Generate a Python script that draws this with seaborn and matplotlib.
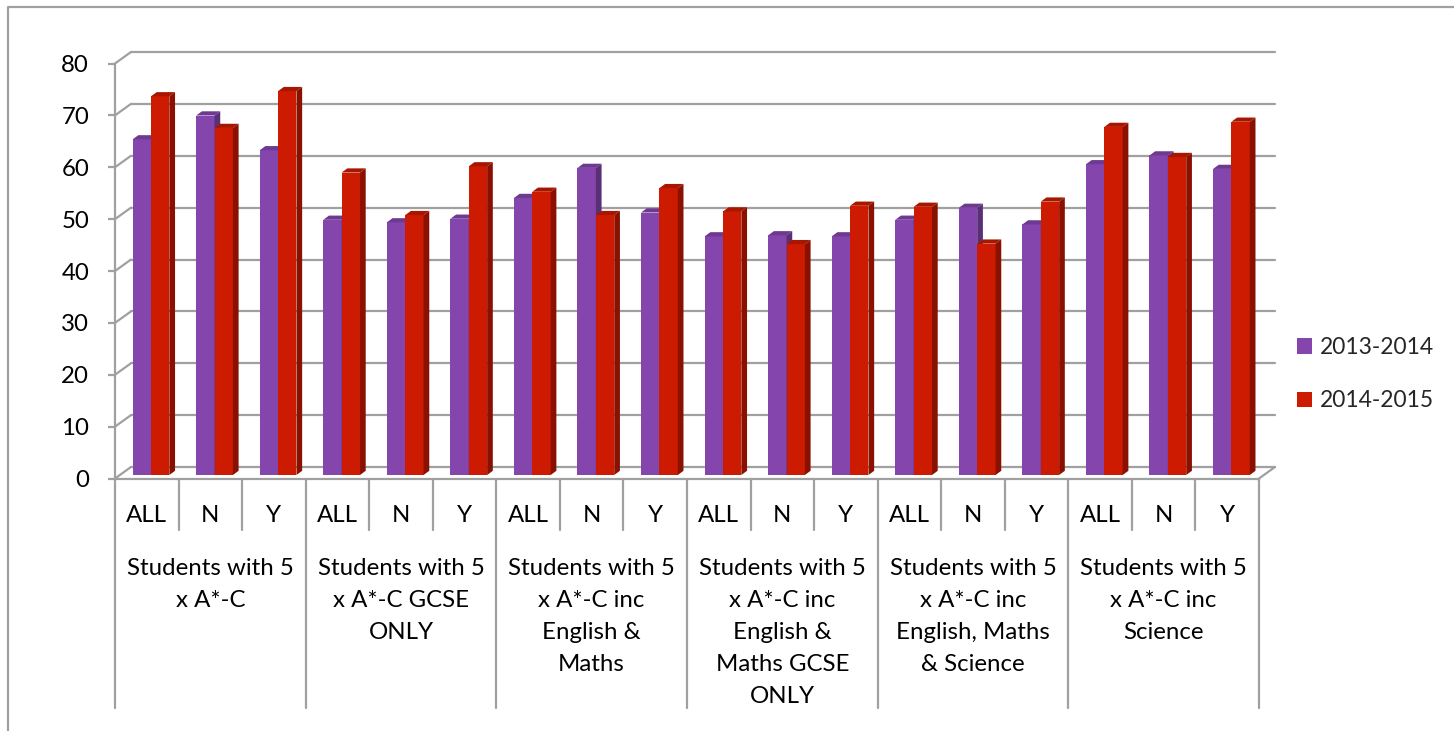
import numpy as np
import pandas as pd
import matplotlib
matplotlib.use("Agg")
import matplotlib.pyplot as plt
import seaborn as sns
from matplotlib import transforms
from matplotlib.patches import Polygon, Patch
from matplotlib.lines import Line2D

# ---------------- data ----------------
groups = [
    "Students with 5\nx A*-C",
    "Students with 5\nx A*-C GCSE\nONLY",
    "Students with 5\nx A*-C inc\nEnglish &\nMaths",
    "Students with 5\nx A*-C inc\nEnglish &\nMaths GCSE\nONLY",
    "Students with 5\nx A*-C inc\nEnglish, Maths\n& Science",
    "Students with 5\nx A*-C inc\nScience",
]
subcats = ["ALL", "N", "Y"]
series = ["2013-2014", "2014-2015"]
vals_1314 = [64.7, 69.3, 62.6,
             49.2, 48.7, 49.4,
             53.4, 59.2, 50.6,
             46.0, 46.2, 46.0,
             49.2, 51.5, 48.3,
             59.9, 61.6, 59.0]
vals_1415 = [73.0, 66.9, 74.0,
             58.3, 50.1, 59.5,
             54.6, 50.1, 55.3,
             50.8, 44.5, 51.9,
             51.7, 44.6, 52.7,
             67.1, 61.3, 68.1]
yticks = [0, 10, 20, 30, 40, 50, 60, 70, 80]

# ---------------- style ----------------
W, H, DPI = 1454, 731, 100
PURPLE, RED = "#8446AC", "#CC1B00"
TOP = {PURPLE: "#6E3990", RED: "#A91600"}
SIDE = {PURPLE: "#5B2E78", RED: "#8A1100"}
GRID = "#a0a0a0"
FS = 17.3

sns.set_style("white")
plt.rcParams["font.family"] = ["Lato", "DejaVu Sans"]

fig = plt.figure(figsize=(W / DPI, H / DPI), dpi=DPI)
fig.patch.set_facecolor("white")

def fy(ypx):
    return 1 - ypx / H

X0, X1, Y0, Y80 = 115, 1259, 478.5, 63.5
ax = fig.add_axes([X0 / W, fy(Y0), (X1 - X0) / W, (Y0 - Y80) / H])
ax.set_facecolor("none")

keys = [f"{g}|{s}" for g in range(len(groups)) for s in subcats]
df = pd.DataFrame({
    "key": keys * 2,
    "series": [series[0]] * len(keys) + [series[1]] * len(keys),
    "value": vals_1314 + vals_1415,
})
sns.barplot(data=df, x="key", y="value", hue="series", order=keys,
            hue_order=series, palette=[PURPLE, RED], width=0.578,
            saturation=1, errorbar=None, legend=False, ax=ax)
ax.set_xlim(-0.5, len(keys) - 0.5)
ax.set_ylim(0, 80)
ax.set_xlabel("")
ax.set_ylabel("")

# 3D depth offsets (pixels)
DX, DY = 16, 11.5          # back wall
BSX, BSY = 4.2, 3.5        # bar front-face shift
TX, TY = 5.7, 4.2          # bar depth
shift = transforms.ScaledTranslation(BSX / DPI, BSY / DPI, fig.dpi_scale_trans)
ident = transforms.IdentityTransform()

for ci, cont in enumerate(ax.containers):
    col = [PURPLE, RED][ci]
    z = 3 + ci
    for bar in cont:
        bar.set_transform(ax.transData + shift)
        bar.set_linewidth(0)
        bar.set_facecolor(col)
        bar.set_zorder(z)
        x, w, h = bar.get_x(), bar.get_width(), bar.get_height()
        (px0, py0) = ax.transData.transform((x, 0)) + (BSX, BSY)
        (px1, py1) = ax.transData.transform((x + w, h)) + (BSX, BSY)
        top = Polygon([(px0, py1), (px1, py1), (px1 + TX, py1 + TY), (px0 + TX, py1 + TY)],
                      closed=True, transform=ident, facecolor=TOP[col], lw=0,
                      zorder=z, clip_on=False)
        side = Polygon([(px1, py0), (px1, py1), (px1 + TX, py1 + TY), (px1 + TX, py0 + TY)],
                       closed=True, transform=ident, facecolor=SIDE[col], lw=0,
                       zorder=z, clip_on=False)
        ax.add_artist(top)
        ax.add_artist(side)

# back-wall gridlines and left diagonals
back = ax.transData + transforms.ScaledTranslation(DX / DPI, DY / DPI, fig.dpi_scale_trans)
xl, xr = ax.get_xlim()
for v in yticks:
    ax.add_artist(Line2D([xl, xr], [v, v], transform=back, color=GRID, lw=1.6,
                         zorder=1, clip_on=False))
    fx, fyy = ax.transData.transform((xl, v))
    ax.add_artist(Line2D([fx, fx + DX], [fyy, fyy + DY], transform=ident, color=GRID,
                         lw=1.6, zorder=1, clip_on=False))
rx, ry = ax.transData.transform((xr, 0))
ax.add_artist(Line2D([rx, rx + DX], [ry, ry + DY], transform=ident, color=GRID,
                     lw=1.6, zorder=1, clip_on=False))

# spines / ticks
for s in ["top", "right"]:
    ax.spines[s].set_visible(False)
for s in ["left", "bottom"]:
    ax.spines[s].set_color(GRID)
    ax.spines[s].set_linewidth(1.6)
ax.set_yticks(yticks)
ax.set_yticklabels([str(t) for t in yticks])
ax.tick_params(axis="y", length=5.4, width=1.6, color=GRID, pad=13.3,
               labelsize=FS, labelcolor="black", left=True)
ax.set_xticks([])

# multi-level category axis
blend = transforms.blended_transform_factory(ax.transData, fig.transFigure)
for i in range(len(keys)):
    ax.text(i, fy(521.5), subcats[i % 3], transform=blend, ha="center",
            va="baseline", fontsize=FS, color="black", clip_on=False)
for i in range(len(keys) + 1):
    xb = i - 0.5
    ybot = 708 if i % 3 == 0 else 530
    ax.add_artist(Line2D([xb, xb], [fy(Y0), fy(ybot)], transform=blend, color=GRID,
                         lw=1.6, clip_on=False))
for g, lab in enumerate(groups):
    for k, line in enumerate(lab.split("\n")):
        ax.text(3 * g + 1, fy(575 + 32 * k), line, transform=blend, ha="center",
                va="baseline", fontsize=FS, color="black", clip_on=False)

# legend
handles = [Patch(facecolor=PURPLE, edgecolor="none"), Patch(facecolor=RED, edgecolor="none")]
fig.legend(handles, series, loc="upper left", bbox_to_anchor=(1297 / W, fy(337)),
           frameon=False, fontsize=16.4, handlelength=0.66, handleheight=0.66,
           handletextpad=0.35, labelspacing=1.42, borderpad=0, borderaxespad=0)

# outer chart frame
fig.add_artist(Line2D([8 / W, 8 / W, 1], [0, fy(7), fy(7)], transform=fig.transFigure,
                      color=GRID, lw=1.6))

fig.savefig("out.png", dpi=DPI)
